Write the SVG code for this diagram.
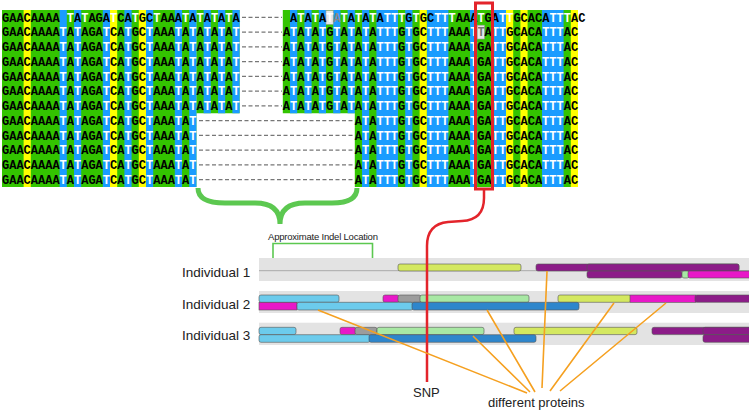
<svg xmlns="http://www.w3.org/2000/svg" xmlns:xlink="http://www.w3.org/1999/xlink" width="749" height="412" viewBox="0 0 749 412">
<style>
.seq{font-family:"Liberation Mono",monospace;font-weight:bold;font-size:12px;white-space:pre}
.k{fill:#000}.w{fill:#fff}
.g{fill:#33c400}.b{fill:#1a9cff}.y{fill:#ffff00}
.f{stroke:#555;stroke-width:0.6}
.yg{fill:#d4e860}.pu{fill:#8c1c88}.mg{fill:#e818c8}.lb{fill:#6ccbec}.db{fill:#2e86cc}.lg{fill:#a8e8a4}.gr{fill:#9c9c9c}
.band{fill:#e3e3e3}
.lab{font-family:"Liberation Sans",Arial,sans-serif;fill:#222}
.or{stroke:#f5a020;stroke-width:1.6;fill:none}
</style>
<defs>
<text id="LB" class="seq k" xml:space="preserve">GAACAAAA A AGA CA GC AAA A A A A       A A A G A A A   G GC   AAA GA  GCACA   AC</text>
<text id="LW" class="seq w" xml:space="preserve">        T T   T  T  T   T T T T T       T T T T T T TTT T  TTT   T  TT     TTT  </text>
<text id="SB" class="seq k" xml:space="preserve">GAACAAAA A AGA CA GC AAA A                       A A   G GC   AAA GA  GCACA   AC</text>
<text id="SW" class="seq w" xml:space="preserve">        T T   T  T  T   T T                       T TTT T  TTT   T  TT     TTT  </text>
</defs>
<rect width="749" height="412" fill="#fff"/>
<g id="alignment">
<rect class="g" x="2" y="10" width="194.4" height="177"/>
<rect class="g" x="196.4" y="10" width="43.2" height="103.25"/>
<rect class="g" x="282.8" y="10" width="72" height="103.25"/>
<rect class="g" x="354.8" y="10" width="223.2" height="177"/>
<g class="b">
<rect x="59.6" y="10" width="7.2" height="177"/><rect x="74" y="10" width="7.2" height="177"/><rect x="102.8" y="10" width="7.2" height="177"/><rect x="124.4" y="10" width="7.2" height="177"/><rect x="146" y="10" width="7.2" height="177"/><rect x="174.8" y="10" width="7.2" height="177"/><rect x="189.2" y="10" width="7.2" height="177"/>
<rect x="203.6" y="10" width="7.2" height="103.25"/><rect x="218" y="10" width="7.2" height="103.25"/><rect x="232.4" y="10" width="7.2" height="103.25"/>
<rect x="290" y="10" width="7.2" height="103.25"/><rect x="304.4" y="10" width="7.2" height="103.25"/><rect x="318.8" y="10" width="7.2" height="103.25"/><rect x="333.2" y="10" width="7.2" height="103.25"/><rect x="347.6" y="10" width="7.2" height="103.25"/>
<rect x="362" y="10" width="7.2" height="177"/><rect x="376.4" y="10" width="21.6" height="177"/><rect x="405.2" y="10" width="7.2" height="177"/><rect x="426.8" y="10" width="21.6" height="177"/><rect x="470" y="10" width="7.2" height="177"/><rect x="491.6" y="10" width="14.4" height="177"/><rect x="542" y="10" width="21.6" height="177"/>
</g>
<g class="y">
<rect x="23.6" y="10" width="7.2" height="177"/><rect x="110" y="10" width="7.2" height="177"/><rect x="138.8" y="10" width="7.2" height="177"/>
<rect x="419.6" y="10" width="7.2" height="177"/><rect x="506" y="10" width="7.2" height="177"/><rect x="520.4" y="10" width="7.2" height="177"/><rect x="570.8" y="10" width="7.2" height="177"/>
</g>
<rect x="326" y="10.5" width="7.2" height="13.8" fill="#e8e8e8" stroke="#999" stroke-width="0.6"/>
<rect x="477.2" y="25.2" width="7.2" height="13.8" fill="#e8e8e8" stroke="#999" stroke-width="0.6"/>
<text class="seq k" x="2" y="21.5" xml:space="preserve">GAACAAAA <tspan class="w">T</tspan>A<tspan class="w">T</tspan>AGA<tspan class="w">T</tspan>CA<tspan class="w">T</tspan>GC<tspan class="w">T</tspan>AAA<tspan class="w">T</tspan>A<tspan class="w">T</tspan>A<tspan class="w">T</tspan>A<tspan class="w">T</tspan>A<tspan class="w">T</tspan>      A<tspan class="w">T</tspan>A<tspan class="w">T</tspan>A<tspan class="w">T</tspan><tspan fill="#888">A</tspan><tspan class="w">T</tspan>A<tspan class="w">T</tspan>A<tspan class="w">T</tspan>A<tspan class="w">TTT</tspan>G<tspan class="w">T</tspan>GC<tspan class="w">TTT</tspan>AAA<tspan class="w">T</tspan>GA<tspan class="w">TT</tspan>GCACA<tspan class="w">TTT</tspan>AC</text>
<text class="seq k" x="2" y="36.25" xml:space="preserve">GAACAAAA<tspan class="w">T</tspan>A<tspan class="w">T</tspan>AGA<tspan class="w">T</tspan>CA<tspan class="w">T</tspan>GC<tspan class="w">T</tspan>AAA<tspan class="w">T</tspan>A<tspan class="w">T</tspan>A<tspan class="w">T</tspan>A<tspan class="w">T</tspan>A<tspan class="w">T</tspan>      A<tspan class="w">T</tspan>A<tspan class="w">T</tspan>A<tspan class="w">T</tspan>G<tspan class="w">T</tspan>A<tspan class="w">T</tspan>A<tspan class="w">T</tspan>A<tspan class="w">TTT</tspan>G<tspan class="w">T</tspan>GC<tspan class="w">TTT</tspan>AAA<tspan class="w">T</tspan><tspan fill="#777">T</tspan>A<tspan class="w">TT</tspan>GCACA<tspan class="w">TTT</tspan>AC</text>
<use xlink:href="#LB" x="2" y="51"/><use xlink:href="#LW" x="2" y="51"/>
<use xlink:href="#LB" x="2" y="65.75"/><use xlink:href="#LW" x="2" y="65.75"/>
<use xlink:href="#LB" x="2" y="80.5"/><use xlink:href="#LW" x="2" y="80.5"/>
<use xlink:href="#LB" x="2" y="95.25"/><use xlink:href="#LW" x="2" y="95.25"/>
<use xlink:href="#LB" x="2" y="110"/><use xlink:href="#LW" x="2" y="110"/>
<use xlink:href="#SB" x="2" y="124.75"/><use xlink:href="#SW" x="2" y="124.75"/>
<use xlink:href="#SB" x="2" y="139.5"/><use xlink:href="#SW" x="2" y="139.5"/>
<use xlink:href="#SB" x="2" y="154.25"/><use xlink:href="#SW" x="2" y="154.25"/>
<use xlink:href="#SB" x="2" y="169"/><use xlink:href="#SW" x="2" y="169"/>
<use xlink:href="#SB" x="2" y="183.75"/><use xlink:href="#SW" x="2" y="183.75"/>
<path d="M242 17.4H282M242 32.1H282M242 46.9H282M242 61.6H282M242 76.4H282M242 91.1H282M242 105.9H282M199 120.6H354M199 135.4H354M199 150.1H354M199 164.9H354M199 179.6H354" stroke="#777" stroke-width="1.2" stroke-dasharray="4,2.5"/>
</g>
<g id="individual-1">
<rect class="band" x="259" y="258" width="490" height="23"/>
<line x1="259" y1="270.7" x2="749" y2="270.7" stroke="#999" stroke-width="0.8"/>
<text class="lab" x="182" y="277" font-size="13.5">Individual 1</text>
<rect class="f yg" x="398" y="264" width="123" height="7" rx="2"/>
<rect class="f pu" x="536" y="264" width="203" height="7" rx="2"/>
<rect class="f pu" x="587" y="264" width="152" height="7" rx="2"/>
<rect class="f pu" x="587" y="271" width="95" height="7" rx="2"/>
<rect class="f lg" x="682" y="271" width="7" height="7" rx="2"/>
<rect class="f mg" x="688" y="271" width="65" height="7" rx="2"/>
</g>
<g id="individual-2">
<rect class="band" x="259" y="291" width="490" height="22"/>
<text class="lab" x="182" y="309" font-size="13.5">Individual 2</text>
<rect class="f lb" x="259" y="295" width="80" height="7.3" rx="2"/>
<rect class="f mg" x="383" y="295" width="16" height="7.3" rx="2"/>
<rect class="f gr" x="398" y="295" width="23" height="7.3" rx="2"/>
<rect class="f lg" x="420" y="295" width="109" height="7.3" rx="2"/>
<rect class="f yg" x="558" y="295" width="73" height="7.3" rx="2"/>
<rect class="f mg" x="630" y="295" width="66" height="7.3"/>
<rect class="f pu" x="695" y="295" width="58" height="7.3" rx="2"/>
<rect class="f mg" x="259" y="302.3" width="38" height="7.7"/>
<rect class="f lb" x="297" y="302.3" width="116" height="7.7" rx="2"/>
<rect class="f db" x="412" y="302.3" width="167" height="7.7" rx="2"/>
</g>
<g id="individual-3">
<rect class="band" x="259" y="322.7" width="490" height="22.3"/>
<text class="lab" x="182" y="340" font-size="13.5">Individual 3</text>
<rect class="f lb" x="259" y="327.3" width="37" height="7.3" rx="2"/>
<rect class="f mg" x="340" y="327.3" width="16" height="7.3" rx="2"/>
<rect class="f gr" x="355" y="327.3" width="22" height="7.3" rx="2"/>
<rect class="f lg" x="377" y="327.3" width="107" height="7.3" rx="2"/>
<rect class="f yg" x="514" y="327.3" width="123" height="7.3" rx="2"/>
<rect class="f pu" x="652" y="327.3" width="101" height="7.3" rx="2"/>
<rect class="f pu" x="703" y="327.3" width="50" height="7.3" rx="2"/>
<rect class="f lb" x="259" y="334.7" width="111" height="7.6" rx="2"/>
<rect class="f db" x="369" y="334.7" width="167" height="7.6" rx="2"/>
<rect class="f pu" x="703" y="334.7" width="50" height="7.6" rx="2"/>
</g>
<g id="connectors">
<path d="M198 188Q198 203 225 203L255 203Q280 203 280 224Q280 203 305 203L332 203Q357 203 357 188" fill="none" stroke="#5cc850" stroke-width="5"/>
<path d="M273 258V243.5H372.5V258" fill="none" stroke="#5cc850" stroke-width="1.6"/>
<rect x="475.5" y="3" width="17" height="186" fill="none" stroke="#e3242b" stroke-width="3"/>
<path d="M484 189V198Q484 220 462 221L448 222Q427 224 427 246V382" fill="none" stroke="#e3242b" stroke-width="2.5"/>
<path class="or" d="M318 310L527 393M473 336L530 392M487 310L535 392M547 271L542 388M614 303L550 391M666 303L560 391"/>
</g>
<g id="labels">
<text class="lab" x="268" y="240" font-size="9.5" textLength="110">Approximate Indel Location</text>
<text class="lab" x="413" y="397" font-size="13">SNP</text>
<text class="lab" x="488" y="407" font-size="13">different proteins</text>
</g>
</svg>
